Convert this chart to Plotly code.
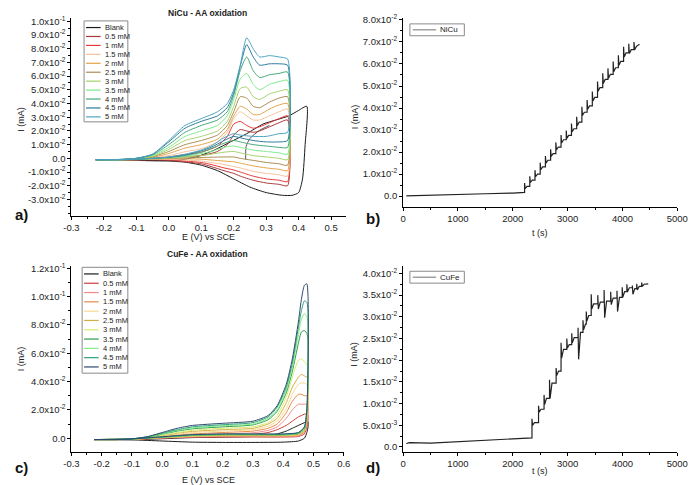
import plotly.graph_objects as go

# page has an 8 px body margin, so the figure is sized to fill the rest of the window
OFF = 8
W, H = 700 - OFF, 485 - OFF

# ---------------- data ----------------
labels = ["Blank", "0.5 mM", "1 mM", "1.5 mM", "2 mM", "2.5 mM",
          "3 mM", "3.5 mM", "4 mM", "4.5 mM", "5 mM"]
a_colors = ["#1a1a1a", "#a8393a", "#e63a3a", "#f6c19c", "#e4a34a", "#a98d55",
            "#a6d26e", "#7eea8c", "#47a779", "#2c7b9c", "#4ea4be"]
c_colors = ["#1a1a1a", "#cf3b3b", "#f28a8a", "#e98a45", "#f3d98f", "#d3ad45",
            "#d9ec70", "#2f9c4c", "#80ee84", "#2fa07e", "#2e4a6b"]

# a) NiCu - AA oxidation, E (V) vs SCE / I (mA)
a_E_fwd = [-0.225, -0.15, -0.1, -0.05, 0.0, 0.05, 0.1, 0.15, 0.18, 0.2,
           0.22, 0.24, 0.26, 0.28, 0.31, 0.34, 0.366]
a_E_rev = [0.366, 0.34, 0.3, 0.26, 0.22, 0.2, 0.17, 0.13, 0.1, 0.05,
           0.0, -0.05, -0.1, -0.15, -0.225]
a_I_fwd = [
    [-0.001, -0.001, -0.0006, -0.0002, 0.0004, 0.0012, 0.002, 0.005, 0.010, 0.017, 0.021, 0.020, 0.019, 0.020, 0.023, 0.026, 0.028],
    [-0.001, -0.001, -0.0005, 0.0, 0.001, 0.0028, 0.0045, 0.009, 0.016, 0.025, 0.027, 0.024, 0.022, 0.023, 0.026, 0.029, 0.031],
    [-0.001, -0.001, -0.0004, 0.0004, 0.002, 0.0048, 0.007, 0.012, 0.019, 0.029, 0.034, 0.031, 0.028, 0.028, 0.031, 0.034, 0.036],
    [-0.001, -0.001, -0.0003, 0.0008, 0.0035, 0.0075, 0.010, 0.014, 0.021, 0.031, 0.038, 0.036, 0.032, 0.032, 0.036, 0.039, 0.040],
    [-0.001, -0.001, -0.0002, 0.0012, 0.005, 0.010, 0.013, 0.017, 0.024, 0.034, 0.045, 0.044, 0.038, 0.037, 0.041, 0.044, 0.045],
    [-0.001, -0.001, 0.0, 0.0015, 0.0065, 0.013, 0.016, 0.020, 0.027, 0.038, 0.051, 0.052, 0.045, 0.043, 0.047, 0.049, 0.050],
    [-0.001, -0.001, 0.0, 0.002, 0.008, 0.016, 0.020, 0.024, 0.031, 0.043, 0.058, 0.062, 0.054, 0.050, 0.054, 0.056, 0.057],
    [-0.001, -0.0008, 0.0, 0.0025, 0.010, 0.019, 0.024, 0.028, 0.034, 0.046, 0.064, 0.074, 0.064, 0.059, 0.061, 0.062, 0.063],
    [-0.001, -0.0008, 0.0, 0.003, 0.012, 0.022, 0.027, 0.031, 0.037, 0.048, 0.067, 0.083, 0.074, 0.068, 0.069, 0.069, 0.068],
    [-0.001, -0.0008, 0.0, 0.003, 0.013, 0.024, 0.029, 0.034, 0.040, 0.050, 0.068, 0.088, 0.080, 0.074, 0.075, 0.074, 0.0725],
]
a_I_rev = [
    [-0.020, -0.019, -0.018, -0.016, -0.013, -0.011, -0.009, -0.006, -0.004, -0.0025, -0.0015, -0.001, -0.001, -0.001, -0.001],
    [-0.017, -0.016, -0.015, -0.013, -0.010, -0.0085, -0.007, -0.0045, -0.003, -0.002, -0.001, -0.001, -0.001, -0.001, -0.001],
    [-0.013, -0.012, -0.011, -0.0095, -0.007, -0.006, -0.0045, -0.003, -0.002, -0.0012, -0.0008, -0.0008, -0.001, -0.001, -0.001],
    [-0.009, -0.008, -0.007, -0.0055, -0.0035, -0.0025, -0.002, -0.0012, -0.0006, -0.0003, -0.0003, -0.0005, -0.001, -0.001, -0.001],
    [-0.005, -0.004, -0.003, -0.0015, 0.0, 0.001, 0.001, 0.0008, 0.0006, 0.0003, 0.0, -0.0004, -0.0008, -0.001, -0.001],
    [-0.001, 0.0, 0.001, 0.002, 0.004, 0.005, 0.0045, 0.003, 0.002, 0.001, 0.0003, -0.0003, -0.0008, -0.001, -0.001],
    [0.003, 0.004, 0.005, 0.006, 0.008, 0.009, 0.008, 0.005, 0.0035, 0.0015, 0.0005, -0.0002, -0.0008, -0.001, -0.001],
    [0.008, 0.008, 0.009, 0.010, 0.012, 0.013, 0.011, 0.007, 0.0045, 0.002, 0.0007, 0.0, -0.0007, -0.001, -0.001],
    [0.013, 0.012, 0.012, 0.013, 0.015, 0.016, 0.013, 0.008, 0.0055, 0.0025, 0.0008, 0.0, -0.0007, -0.001, -0.001],
    [0.019, 0.018, 0.016, 0.016, 0.017, 0.018, 0.015, 0.009, 0.006, 0.003, 0.001, 0.0, -0.0006, -0.001, -0.001],
]
a_blank_E = [-0.225, -0.15, -0.1, -0.05, 0.0, 0.05, 0.1, 0.15, 0.2, 0.25, 0.3, 0.35,
             0.38, 0.40, 0.412, 0.42, 0.425, 0.40, 0.37, 0.33, 0.29, 0.24, 0.19,
             0.14, 0.09, 0.04, 0.0, -0.05, -0.1, -0.225]
a_blank_I = [-0.001, -0.0012, -0.0015, -0.0018, -0.002, -0.0028, -0.005, -0.009,
             -0.015, -0.021, -0.025, -0.027, -0.027, -0.025, -0.015, 0.010, 0.038,
             0.035, 0.031, 0.028, 0.025, 0.018, 0.012, 0.006, 0.0015, -0.001,
             -0.0015, -0.0015, -0.0012, -0.001]
a_start_E = [0.237, 0.238, 0.25, 0.28, 0.31]
a_start_I = [-0.001, 0.0085, 0.0145, 0.0205, 0.024]

# b) NiCu amperometry, t (s) / I (mA)
b_base_t = [60, 500, 1000, 1500, 2000, 2215]
b_base_I = [0.0001, 0.0005, 0.0008, 0.0011, 0.0014, 0.0017]
b_step_t = [2215, 2310, 2405, 2500, 2595, 2690, 2785, 2880, 2975, 3070, 3165,
            3260, 3355, 3450, 3545, 3640, 3735, 3830, 3925, 4020, 4115, 4210]
b_step_hi = [0.0060, 0.0090, 0.0118, 0.0152, 0.0182, 0.0213, 0.0244, 0.0278,
             0.0298, 0.0330, 0.0360, 0.0406, 0.0436, 0.0475, 0.0520, 0.0558,
             0.0580, 0.0611, 0.0640, 0.0678, 0.0692, 0.0700]
b_step_dip = [0.0034, 0.0062, 0.0088, 0.0120, 0.0150, 0.0180, 0.0210, 0.0242,
              0.0262, 0.0292, 0.0320, 0.0366, 0.0395, 0.0432, 0.0476, 0.0512,
              0.0535, 0.0565, 0.0594, 0.0632, 0.0648, 0.0664]
b_step_level = [0.0044, 0.0073, 0.0100, 0.0133, 0.0163, 0.0193, 0.0223, 0.0256,
                0.0276, 0.0306, 0.0336, 0.0381, 0.0410, 0.0448, 0.0493, 0.0530,
                0.0553, 0.0583, 0.0612, 0.0650, 0.0665, 0.0680]
b_end = (4310, 0.0690)

# c) CuFe - AA oxidation
c_E_fwd = [-0.225, -0.15, -0.1, -0.05, 0.0, 0.05, 0.1, 0.2, 0.3, 0.35, 0.38,
           0.41, 0.43, 0.45, 0.46, 0.47, 0.478]
c_E_rev = [0.482, 0.482, 0.478, 0.47, 0.45, 0.4, 0.3, 0.2, 0.1, 0.0, -0.1, -0.225]
c_I_fwd = [
    [-0.001, -0.001, -0.001, -0.0008, -0.0004, 0.0, 0.0004, 0.0008, 0.0012, 0.002, 0.003, 0.005, 0.007, 0.009, 0.010, 0.011, 0.0125],
    [-0.001, -0.001, -0.0009, -0.0004, 0.0003, 0.001, 0.0015, 0.002, 0.0027, 0.004, 0.006, 0.009, 0.012, 0.015, 0.016, 0.017, 0.017],
    [-0.001, -0.001, -0.0008, -0.0002, 0.0006, 0.0015, 0.0022, 0.003, 0.0038, 0.0055, 0.008, 0.014, 0.020, 0.024, 0.024, 0.024, 0.024],
    [-0.001, -0.001, -0.0008, 0.0, 0.001, 0.0022, 0.003, 0.004, 0.005, 0.007, 0.010, 0.018, 0.026, 0.031, 0.031, 0.030, 0.030],
    [-0.001, -0.001, -0.0007, 0.0002, 0.0013, 0.0028, 0.004, 0.005, 0.006, 0.0085, 0.012, 0.021, 0.031, 0.038, 0.039, 0.039, 0.038],
    [-0.001, -0.001, -0.0006, 0.0004, 0.0017, 0.0035, 0.0048, 0.006, 0.007, 0.010, 0.014, 0.025, 0.036, 0.043, 0.045, 0.044, 0.043],
    [-0.001, -0.001, -0.0006, 0.0005, 0.002, 0.004, 0.0055, 0.007, 0.008, 0.011, 0.016, 0.029, 0.043, 0.055, 0.056, 0.054, 0.052],
    [-0.001, -0.001, -0.0005, 0.0007, 0.0028, 0.005, 0.0066, 0.008, 0.0094, 0.013, 0.019, 0.032, 0.047, 0.067, 0.075, 0.076, 0.074],
    [-0.001, -0.001, -0.0005, 0.0008, 0.003, 0.0055, 0.0072, 0.0088, 0.010, 0.014, 0.020, 0.034, 0.050, 0.073, 0.084, 0.088, 0.086],
    [-0.001, -0.001, -0.0005, 0.001, 0.0035, 0.006, 0.008, 0.0095, 0.011, 0.015, 0.022, 0.036, 0.053, 0.078, 0.090, 0.097, 0.096],
    [-0.001, -0.001, -0.0005, 0.001, 0.004, 0.007, 0.009, 0.0105, 0.012, 0.016, 0.023, 0.038, 0.056, 0.082, 0.098, 0.108, 0.109],
]
c_I_rev = [
    [0.0115, 0.008, 0.004, 0.0, -0.002, -0.0028, -0.003, -0.003, -0.0028, -0.002, -0.0012, -0.001],
    [0.016, 0.013, 0.008, 0.003, 0.0012, 0.0008, 0.0008, 0.0008, 0.0006, 0.0, -0.0008, -0.001],
    [0.022, 0.017, 0.010, 0.004, 0.0017, 0.0012, 0.0012, 0.0012, 0.0009, 0.0002, -0.0008, -0.001],
    [0.028, 0.020, 0.011, 0.0045, 0.002, 0.0015, 0.0015, 0.0015, 0.0011, 0.0003, -0.0007, -0.001],
    [0.036, 0.025, 0.013, 0.005, 0.0024, 0.0018, 0.0018, 0.0018, 0.0013, 0.0004, -0.0007, -0.001],
    [0.042, 0.028, 0.014, 0.0055, 0.0027, 0.002, 0.002, 0.002, 0.0015, 0.0005, -0.0006, -0.001],
    [0.050, 0.032, 0.015, 0.006, 0.003, 0.0022, 0.0022, 0.0022, 0.0017, 0.0006, -0.0006, -0.001],
    [0.070, 0.040, 0.017, 0.0065, 0.0032, 0.0024, 0.0024, 0.0024, 0.0019, 0.0007, -0.0006, -0.001],
    [0.080, 0.045, 0.018, 0.007, 0.0035, 0.0026, 0.0026, 0.0026, 0.0021, 0.0008, -0.0005, -0.001],
    [0.090, 0.050, 0.019, 0.0075, 0.0038, 0.0028, 0.0028, 0.0028, 0.0023, 0.0009, -0.0005, -0.001],
    [0.100, 0.054, 0.020, 0.008, 0.004, 0.003, 0.003, 0.003, 0.0025, 0.001, -0.0005, -0.001],
]

# d) CuFe amperometry
d_base_t = [60, 120, 500, 1000, 1500, 2000, 2350]
d_base_I = [0.0008, 0.0010, 0.0009, 0.0012, 0.0015, 0.0018, 0.0021]
d_step_t = [2350, 2470, 2570, 2670, 2790, 2880, 2985, 3075, 3190, 3280, 3340,
            3430, 3550, 3665, 3785, 3900, 3995, 4080, 4180, 4260, 4350]
d_step_hi = [0.0065, 0.0095, 0.0120, 0.0155, 0.0182, 0.0240, 0.0250, 0.0262,
             0.0275, 0.0292, 0.0312, 0.0352, 0.0350, 0.0362, 0.0358, 0.0360,
             0.0368, 0.0375, 0.0372, 0.0376, 0.0379]
d_step_dip = [0.0050, 0.0080, 0.0098, 0.0112, 0.0165, 0.0205, 0.0228, 0.0240,
              0.0202, 0.0270, 0.0290, 0.0318, 0.0318, 0.0298, 0.0328, 0.0312,
              0.0345, 0.0357, 0.0352, 0.0362, 0.0370]
d_step_level = [0.0056, 0.0087, 0.0112, 0.0147, 0.0175, 0.0225, 0.0236, 0.0252,
                0.0264, 0.0283, 0.0303, 0.0330, 0.0334, 0.0336, 0.0343, 0.0345,
                0.0358, 0.0367, 0.0365, 0.0370, 0.0375]
d_end = (4470, 0.0376)

# tick labels
E_ticks = [-0.3, -0.2, -0.1, 0.0, 0.1, 0.2, 0.3, 0.4, 0.5, 0.6]
E_text = ["-0.3", "-0.2", "-0.1", "0.0", "0.1", "0.2", "0.3", "0.4", "0.5", "0.6"]
a_yticks = [-0.03, -0.02, -0.01, 0.0, 0.01, 0.02, 0.03, 0.04, 0.05, 0.06, 0.07, 0.08, 0.09, 0.1]
a_ytext = ["-3.0x10<sup>-2</sup>", "-2.0x10<sup>-2</sup>", "-1.0x10<sup>-2</sup>", "0.0",
           "1.0x10<sup>-2</sup>", "2.0x10<sup>-2</sup>", "3.0x10<sup>-2</sup>",
           "4.0x10<sup>-2</sup>", "5.0x10<sup>-2</sup>", "6.0x10<sup>-2</sup>",
           "7.0x10<sup>-2</sup>", "8.0x10<sup>-2</sup>", "9.0x10<sup>-2</sup>",
           "1.0x10<sup>-1</sup>"]
b_yticks = [0.0, 0.01, 0.02, 0.03, 0.04, 0.05, 0.06, 0.07, 0.08]
b_ytext = ["0.0", "1.0x10<sup>-2</sup>", "2.0x10<sup>-2</sup>", "3.0x10<sup>-2</sup>",
           "4.0x10<sup>-2</sup>", "5.0x10<sup>-2</sup>", "6.0x10<sup>-2</sup>",
           "7.0x10<sup>-2</sup>", "8.0x10<sup>-2</sup>"]
c_yticks = [0.0, 0.02, 0.04, 0.06, 0.08, 0.1, 0.12]
c_ytext = ["0.0", "2.0x10<sup>-2</sup>", "4.0x10<sup>-2</sup>", "6.0x10<sup>-2</sup>",
           "8.0x10<sup>-2</sup>", "1.0x10<sup>-1</sup>", "1.2x10<sup>-1</sup>"]
d_yticks = [0.0, 0.005, 0.01, 0.015, 0.02, 0.025, 0.03, 0.035, 0.04]
d_ytext = ["0.0", "5.0x10<sup>-3</sup>", "1.0x10<sup>-2</sup>", "1.5x10<sup>-2</sup>",
           "2.0x10<sup>-2</sup>", "2.5x10<sup>-2</sup>", "3.0x10<sup>-2</sup>",
           "3.5x10<sup>-2</sup>", "4.0x10<sup>-2</sup>"]

FONT = "Liberation Sans, Arial, sans-serif"


def px(x):
    return (x - OFF) / W


def py(y):
    return 1 - (y - OFF) / H


def cv_line(E, I, color, xa, ya):
    return go.Scatter(x=E, y=I, mode="lines", xaxis=xa, yaxis=ya,
                      line=dict(color=color, width=1, shape="spline", smoothing=0.6),
                      showlegend=False, hoverinfo="skip")


def steps(base_t, base_I, st, hi, dip, lvl, end):
    x, y = list(base_t), list(base_I)
    for k, t in enumerate(st):
        x += [t, t, t + 10, t + 45]
        y += [y[-1], hi[k], dip[k], lvl[k]]
    x.append(end[0])
    y.append(end[1])
    return x, y


fig = go.Figure()

# a) NiCu CV
fig.add_trace(cv_line(a_blank_E, a_blank_I, a_colors[0], "x", "y"))
fig.add_trace(cv_line(a_start_E, a_start_I, "#555555", "x", "y"))
for k in range(10):
    fig.add_trace(cv_line(a_E_fwd + a_E_rev, a_I_fwd[k] + a_I_rev[k],
                          a_colors[k + 1], "x", "y"))

# b) NiCu amperometry
bx, by = steps(b_base_t, b_base_I, b_step_t, b_step_hi, b_step_dip, b_step_level, b_end)
fig.add_trace(go.Scatter(x=bx, y=by, mode="lines", xaxis="x2", yaxis="y2",
                         line=dict(color="#222222", width=1.2), showlegend=False,
                         hoverinfo="skip"))

# c) CuFe CV
for k in range(11):
    fig.add_trace(cv_line(c_E_fwd + c_E_rev, c_I_fwd[k] + c_I_rev[k],
                          c_colors[k], "x3", "y3"))

# d) CuFe amperometry
dx, dy = steps(d_base_t, d_base_I, d_step_t, d_step_hi, d_step_dip, d_step_level, d_end)
fig.add_trace(go.Scatter(x=dx, y=dy, mode="lines", xaxis="x4", yaxis="y4",
                         line=dict(color="#222222", width=1.2), showlegend=False,
                         hoverinfo="skip"))


def axis(domain, rng, anchor, minor_dtick, tickvals=None, ticktext=None, dtick=None):
    d = dict(domain=domain, range=rng, anchor=anchor, showline=True,
             linecolor="black", linewidth=1, ticks="outside", ticklen=3,
             tickwidth=1, tickcolor="black", showgrid=False, zeroline=False,
             tickfont=dict(family=FONT, size=9.5, color="#222"),
             minor=dict(ticks="outside", ticklen=2, tickcolor="black",
                        dtick=minor_dtick, tick0=0, showgrid=False))
    if tickvals is not None:
        d.update(tickmode="array", tickvals=tickvals, ticktext=ticktext)
    else:
        d.update(tickmode="linear", tick0=0, dtick=dtick)
    return d


xa_dom = [px(65), px(347)]
xc_dom = [px(65), px(345)]
xb_dom = [px(406), px(688)]
top_dom = [py(213), py(13)]
topb_dom = [py(204), py(13)]
bot_dom = [py(451.7), py(264)]

shapes = []
annots = []


def text(x, y, s, size=9, bold=False, angle=0, anchor="center", color="#222"):
    annots.append(dict(x=px(x), y=py(y), xref="paper", yref="paper", text=s,
                       showarrow=False, textangle=angle, xanchor=anchor,
                       yanchor="middle",
                       font=dict(family=FONT, size=size, color=color,
                                 weight="bold" if bold else "normal")))


def legend_box(x0, y0, x1, y1):
    shapes.append(dict(type="rect", xref="paper", yref="paper",
                       x0=px(x0), x1=px(x1), y0=py(y1), y1=py(y0),
                       line=dict(color="#8a8a8a", width=1), fillcolor="white",
                       layer="above"))


def legend_item(x, y, color, label, length=15, size=7.5):
    shapes.append(dict(type="line", xref="paper", yref="paper",
                       x0=px(x), x1=px(x + length), y0=py(y), y1=py(y),
                       line=dict(color=color, width=1.2), layer="above"))
    text(x + length + 2, y, label, size=size, anchor="left")


# legend a
legend_box(78, 16, 123, 118)
for k, lab in enumerate(labels):
    legend_item(80, 22.7 + 9.03 * k, a_colors[k], lab)
# legend c
legend_box(76, 265, 123, 372)
for k, lab in enumerate(labels):
    legend_item(78, 271.7 + 9.4 * k, c_colors[k], lab)
# legends b, d
legend_box(413, 19, 469, 31)
legend_item(416, 25, "#8a8a8a", "NiCu", length=24, size=8)
legend_box(413, 269, 469, 281)
legend_item(416, 275, "#8a8a8a", "CuFe", length=24, size=8)

# titles, axis titles, panel letters
text(205, 8, "NiCu - AA oxidation", size=8.5, bold=True)
text(205, 252, "CuFe - AA oxidation", size=8.5, bold=True)
text(206, 234, "E (V) vs SCE", size=9)
text(206, 480, "E (V) vs SCE", size=9)
text(547, 230, "t (s)", size=9)
text(547, 471, "t (s)", size=9)
text(13, 115, "I (mA)", size=9, angle=-90)
text(356, 113, "I (mA)", size=9, angle=-90)
text(13, 357, "I (mA)", size=9, angle=-90)
text(356, 353, "I (mA)", size=9, angle=-90)
text(14, 212, "a)", size=15, bold=True, color="#111")
text(375, 216, "b)", size=15, bold=True, color="#111")
text(14, 467, "c)", size=15, bold=True, color="#111")
text(375, 467, "d)", size=15, bold=True, color="#111")

fig.update_layout(
    width=W, height=H,
    margin=dict(l=0, r=0, t=0, b=0),
    paper_bgcolor="white", plot_bgcolor="white",
    showlegend=False,
    font=dict(family=FONT, color="#222"),
    xaxis=axis(xa_dom, [-0.3, 0.545], "y", 0.05, E_ticks[:9], E_text[:9]),
    yaxis=axis(top_dom, [-0.042, 0.1025], "x", 0.005, a_yticks, a_ytext),
    xaxis2=axis(xb_dom, [0, 5000], "y2", 500, dtick=1000),
    yaxis2=axis(topb_dom, [-0.0049, 0.0809], "x2", 0.005, b_yticks, b_ytext),
    xaxis3=axis(xc_dom, [-0.3, 0.6], "y3", 0.05, E_ticks, E_text),
    yaxis3=axis(bot_dom, [-0.0098, 0.1214], "x3", 0.01, c_yticks, c_ytext),
    xaxis4=axis(xb_dom, [0, 5000], "y4", 500, dtick=1000),
    yaxis4=axis(bot_dom, [-0.00117, 0.04164], "x4", 0.0025, d_yticks, d_ytext),
    shapes=shapes,
    annotations=annots,
)

fig.write_html("out.html")
